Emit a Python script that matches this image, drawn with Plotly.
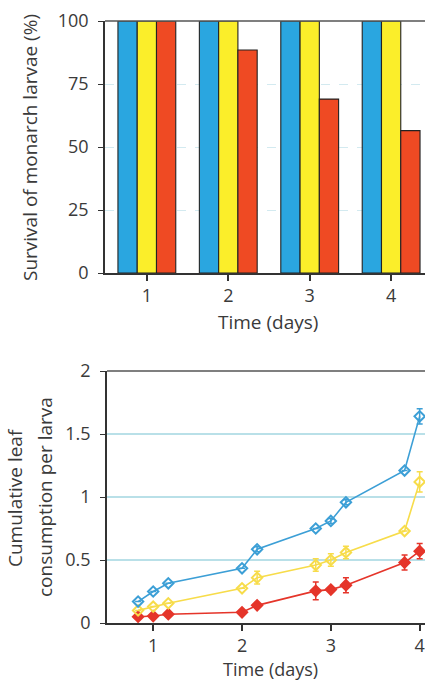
import plotly.graph_objects as go

# ---- Top chart: survival ----
days = [1, 2, 3, 4]
surv_blue = [100, 100, 100, 100]
surv_yellow = [100, 100, 100, 100]
surv_red = [100, 88.5, 69, 56.5]

# ---- Bottom chart: cumulative leaf consumption ----
t = [0.83, 1.0, 1.17, 2.0, 2.17, 2.83, 3.0, 3.17, 3.83, 4.0]
cons_blue = [0.17, 0.25, 0.315, 0.434, 0.585, 0.75, 0.81, 0.958, 1.21, 1.64]
err_blue = [0.0, 0.0, 0.0, 0.0, 0.02, 0.0, 0.02, 0.02, 0.0, 0.06]
cons_yellow = [0.10, 0.13, 0.156, 0.275, 0.36, 0.46, 0.50, 0.56, 0.73, 1.12]
err_yellow = [0.0, 0.0, 0.0, 0.0, 0.05, 0.05, 0.05, 0.05, 0.0, 0.08]
cons_red = [0.05, 0.055, 0.07, 0.085, 0.14, 0.255, 0.265, 0.30, 0.48, 0.57]
err_red = [0.0, 0.0, 0.0, 0.0, 0.0, 0.07, 0.0, 0.06, 0.06, 0.06]

BLUE = "#2aa6e0"
YELLOW = "#fbee2a"
RED = "#ef4a23"
LBLUE = "#3c9fd6"
LYELLOW = "#f7dc4a"
LRED = "#e5352a"
TXT = "#3a3a3a"
FONT = "Open Sans"

fig = go.Figure()

for vals, col in [(surv_blue, BLUE), (surv_yellow, YELLOW), (surv_red, RED)]:
    fig.add_trace(go.Bar(x=days, y=vals, marker=dict(color=col, line=dict(color="#222", width=1.1)),
                         xaxis="x", yaxis="y", showlegend=False))

for vals, err, col, sym in [(cons_red, err_red, LRED, "diamond"),
                            (cons_yellow, err_yellow, LYELLOW, "diamond-open"),
                            (cons_blue, err_blue, LBLUE, "diamond-open")]:
    fig.add_trace(go.Scatter(x=t, y=vals, mode="lines+markers",
                             line=dict(color=col, width=1.6),
                             marker=dict(symbol=sym, size=8, color=col, line=dict(color=col, width=2)),
                             error_y=dict(type="data", array=err, color=col, thickness=1.5, width=3),
                             xaxis="x2", yaxis="y2", showlegend=False))

W, H = 425, 680
def dx(a, b): return [a / W, b / W]
def dy(top, bot): return [(H - bot) / H, (H - top) / H]
def px(x): return x / W
def py(y): return (H - y) / H

tickfont = dict(family=FONT, size=18, color=TXT)
titlefont = dict(family=FONT, size=19, color=TXT)

common = dict(automargin=False, zeroline=False, showline=True, linecolor="#333", linewidth=1.5,
              ticks="outside", tickcolor="#333", tickfont=tickfont)

fig.update_layout(
    width=W, height=H,
    margin=dict(l=0, r=0, t=0, b=0),
    paper_bgcolor="white", plot_bgcolor="white",
    barmode="group", bargap=0.29, bargroupgap=0,
    font=dict(family=FONT, color=TXT),
    xaxis=dict(domain=dx(105, 425), range=[0.486, 4.416], tickvals=days,
               ticklen=6, tickwidth=1.5, showgrid=False, anchor="y", **common),
    yaxis=dict(domain=dy(21, 273), range=[0, 100], tickvals=[0, 25, 50, 75, 100],
               ticklen=5, ticklabelstandoff=6, showgrid=True, gridcolor="#d3eaf0",
               gridwidth=1.2, griddash="dash", anchor="x", **common),
    xaxis2=dict(domain=dx(107, 425), range=[0.48, 4.06], tickvals=days,
                ticklen=6, tickwidth=1.5, showgrid=False, anchor="y2", **common),
    yaxis2=dict(domain=dy(371, 623), range=[0, 2], tickvals=[0, 0.5, 1, 1.5, 2],
                ticktext=["0", "0.5", "1", "1.5", "2"],
                ticklen=5, ticklabelstandoff=6, showgrid=True, gridcolor="#b9e0e8", gridwidth=1.5,
                anchor="x2", **common),
)

# axis titles
ann = [
    dict(text="Time (days)", x=px(268), y=py(322), font=titlefont),
    dict(text="Survival of monarch larvae (%)", x=px(30), y=py(148), textangle=-90, font=titlefont),
    dict(text="Time (days)", x=px(270), y=py(668.5), font=dict(family=FONT, size=18, color=TXT)),
    dict(text="Cumulative leaf", x=px(15), y=py(498), textangle=-90, font=titlefont),
    dict(text="consumption per larva", x=px(45), y=py(497), textangle=-90, font=titlefont),
]
for a in ann:
    fig.add_annotation(xref="paper", yref="paper", showarrow=False,
                       xanchor="center", yanchor="middle", **a)

# top border lines of both panels
fig.add_shape(type="line", xref="paper", yref="paper", x0=px(105), x1=1,
              y0=py(21), y1=py(21), line=dict(color="#555", width=1.5))
fig.add_shape(type="line", xref="paper", yref="paper", x0=px(107), x1=1,
              y0=py(371), y1=py(371), line=dict(color="#555", width=1.5))

fig.write_html("out.html", config={"displayModeBar": False},
               post_script="document.body.style.margin='0';document.body.style.overflow='hidden';")
